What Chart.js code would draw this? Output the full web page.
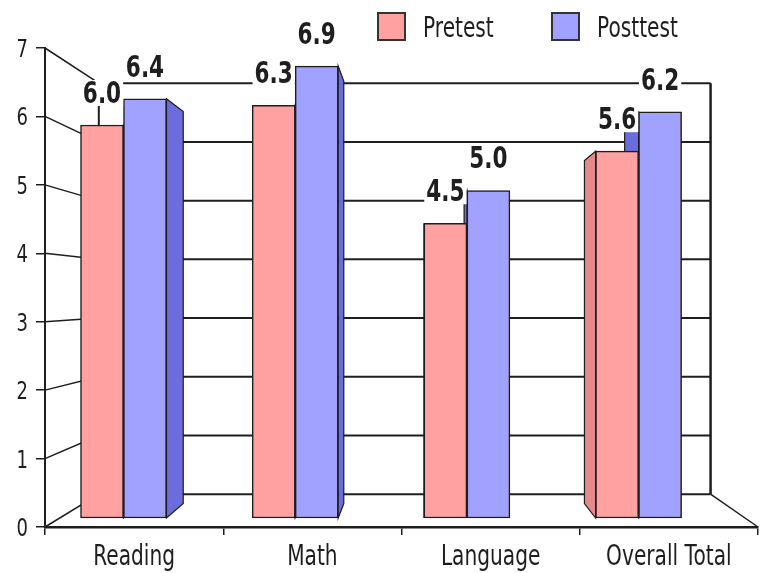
<!DOCTYPE html>
<html>
<head>
<meta charset="utf-8">
<title>Pretest and Posttest Scores</title>
<script src="https://cdn.jsdelivr.net/npm/chart.js@4.4.0/dist/chart.umd.min.js"></script>
<style>
  html, body { margin: 0; padding: 0; background: #ffffff; }
  #wrap { width: 770px; height: 573px; }
</style>
</head>
<body>
<div id="wrap"><canvas id="chart" width="770" height="573"></canvas></div>
<script>
// ---- data ----
const categories = ['Reading', 'Math', 'Language', 'Overall Total'];
const seriesNames = ['Pretest', 'Posttest'];
const pretest = [6.0, 6.3, 4.5, 5.6];
const posttest = [6.4, 6.9, 5.0, 6.2];
const yTicks = [0, 1, 2, 3, 4, 5, 6, 7];

// ---- look ----
const FACE = "'DejaVu Sans', 'Liberation Sans', sans-serif";
const SQUEEZE = 0.72;           // horizontal compression of all lettering
const INK = '#1e1e1e';
const COLORS = {
  pre:  { face: '#ffa1a1', side: '#e58a8a' },
  post: { face: '#a1a1ff', side: '#6c6cdc' }
};
// one-point perspective used for the back wall and the bar side faces
const VIEW = { vx: 424, vy: 296, wallScale: 0.858, barDepth: 0.065 };

function toBack(x, y) {
  return [VIEW.vx + (x - VIEW.vx) * VIEW.wallScale, VIEW.vy + (y - VIEW.vy) * VIEW.wallScale];
}

function narrowFont(size, weight) {
  return (weight || 'normal') + ' ' + size + 'px ' + FACE;
}

// draws condensed lettering; returns the drawn width
function narrowText(ctx, text, x, y, size, weight, align) {
  ctx.save();
  ctx.font = narrowFont(size, weight);
  ctx.textAlign = align || 'left';
  ctx.textBaseline = 'alphabetic';
  ctx.translate(x, y);
  ctx.scale(SQUEEZE, 1);
  ctx.fillText(text, 0, 0);
  const w = ctx.measureText(text).width * SQUEEZE;
  ctx.restore();
  return w;
}

// back wall, its gridlines and the floor edges
const wallPlugin = {
  id: 'wall',
  beforeDatasetsDraw(chart) {
    const { ctx, chartArea: a, scales: { y } } = chart;
    const blx = toBack(a.left, 0)[0];
    const brx = toBack(a.right, 0)[0];
    const topY = toBack(0, y.getPixelForValue(yTicks[yTicks.length - 1]))[1];
    const floorY = toBack(0, y.getPixelForValue(0))[1];
    ctx.save();
    ctx.strokeStyle = INK;
    yTicks.forEach(v => {
      const fy = y.getPixelForValue(v);
      const by = toBack(a.left, fy)[1];
      ctx.lineWidth = 1.5;
      ctx.beginPath(); ctx.moveTo(a.left, fy); ctx.lineTo(blx, by); ctx.stroke();
      ctx.lineWidth = 2;
      ctx.beginPath(); ctx.moveTo(blx, by); ctx.lineTo(brx, by); ctx.stroke();
    });
    ctx.lineWidth = 2;
    ctx.beginPath(); ctx.moveTo(blx, topY); ctx.lineTo(blx, floorY); ctx.stroke();
    ctx.lineWidth = 2.5;
    ctx.beginPath(); ctx.moveTo(brx, topY); ctx.lineTo(brx, floorY); ctx.stroke();
    ctx.lineWidth = 1.5;
    ctx.beginPath(); ctx.moveTo(a.right, y.getPixelForValue(0)); ctx.lineTo(brx, floorY); ctx.stroke();
    ctx.restore();
  }
};

// side faces of the bars, receding toward the vanishing point
const sidePlugin = {
  id: 'barSides',
  beforeDatasetsDraw(chart) {
    const { ctx } = chart;
    ctx.save();
    chart.data.datasets.forEach((ds, di) => {
      chart.getDatasetMeta(di).data.forEach(bar => {
        const { x, y, base, width } = bar.getProps(['x', 'y', 'base', 'width'], true);
        const edge = x < VIEW.vx ? x + width / 2 : x - width / 2;
        const fx = edge + (VIEW.vx - edge) * VIEW.barDepth;
        const ty = y + (VIEW.vy - y) * VIEW.barDepth;
        const by = base + (VIEW.vy - base) * VIEW.barDepth;
        ctx.beginPath();
        ctx.moveTo(edge, y); ctx.lineTo(fx, ty); ctx.lineTo(fx, by); ctx.lineTo(edge, base);
        ctx.closePath();
        ctx.fillStyle = ds.sideColor;
        ctx.fill();
        ctx.lineWidth = 1.2;
        ctx.strokeStyle = INK;
        ctx.stroke();
      });
    });
    ctx.restore();
  }
};

// value above every bar, on a white patch
const valuePlugin = {
  id: 'values',
  afterDatasetsDraw(chart) {
    const { ctx } = chart;
    const size = 30;
    ctx.save();
    ctx.font = narrowFont(size, 'bold');
    const items = [];
    chart.data.datasets.forEach((ds, di) => {
      chart.getDatasetMeta(di).data.forEach((bar, i) => {
        const txt = ds.data[i].y.toFixed(1);
        items.push({ txt, x: bar.x, base: bar.y - 22, w: ctx.measureText(txt).width * SQUEEZE });
      });
    });
    ctx.fillStyle = '#ffffff';
    items.forEach(it => ctx.fillRect(it.x - it.w / 2 - 2, it.base - 23, it.w + 4, 26));
    ctx.restore();
    ctx.save();
    ctx.fillStyle = INK;
    items.forEach(it => narrowText(ctx, it.txt, it.x, it.base, size, 'bold', 'center'));
    ctx.restore();
  }
};

// tick lettering for both axes, placed at the library's tick positions
const axisTextPlugin = {
  id: 'axisText',
  afterDraw(chart) {
    const { ctx, scales: { x, y } } = chart;
    ctx.save();
    ctx.fillStyle = INK;
    y.ticks.forEach((t, i) => {
      narrowText(ctx, t.label, y.right - 17, y.getPixelForTick(i) + 9, 25, 'normal', 'right');
    });
    x.ticks.forEach((t, i) => {
      narrowText(ctx, x.getLabelForValue(t.value), x.getPixelForTick(i), x.top + 38, 28, 'normal', 'center');
    });
    ctx.restore();
  }
};

// series key at the top
const keyPlugin = {
  id: 'seriesKey',
  afterDraw(chart, args, opts) {
    const { ctx } = chart;
    const size = 27;
    ctx.save();
    chart.data.datasets.forEach((ds, i) => {
      const x = opts.xs[i], y = opts.top;
      ctx.fillStyle = ds.backgroundColor;
      ctx.fillRect(x, y, size, size);
      ctx.lineWidth = 2;
      ctx.strokeStyle = '#333333';
      ctx.strokeRect(x, y, size, size);
      ctx.fillStyle = INK;
      narrowText(ctx, ds.label, x + size + 18, y + size / 2 + 10, 28, 'normal', 'left');
    });
    ctx.restore();
  }
};

const toPoints = values => values.map((v, i) => ({ x: i, y: v }));

new Chart(document.getElementById('chart'), {
  type: 'bar',
  data: {
    labels: categories,
    datasets: [
      {
        label: seriesNames[0],
        data: toPoints(pretest),
        backgroundColor: COLORS.pre.face,
        sideColor: COLORS.pre.side,
        borderColor: INK,
        borderWidth: 1.5,
        borderSkipped: false,
        xAxisID: 'xb',
        yAxisID: 'yb'
      },
      {
        label: seriesNames[1],
        data: toPoints(posttest),
        backgroundColor: COLORS.post.face,
        sideColor: COLORS.post.side,
        borderColor: INK,
        borderWidth: 1.5,
        borderSkipped: false,
        xAxisID: 'xb',
        yAxisID: 'yb'
      }
    ]
  },
  options: {
    responsive: false,
    devicePixelRatio: 1,
    animation: false,
    barThickness: 43,
    layout: { padding: { top: 48, right: 12, bottom: 0, left: 0 } },
    plugins: {
      legend: { display: false },
      tooltip: { enabled: false },
      seriesKey: { xs: [378, 552], top: 13 }
    },
    scales: {
      x: {
        type: 'category',
        position: 'bottom',
        offset: true,
        grid: { display: true, offset: true, drawOnChartArea: false, drawTicks: true, tickLength: 8, color: INK, lineWidth: 1.5 },
        border: { display: true, color: INK, width: 2.5 },
        ticks: { display: false },
        afterFit: s => { s.height = 46; }
      },
      y: {
        type: 'linear',
        position: 'left',
        min: yTicks[0],
        max: yTicks[yTicks.length - 1],
        ticks: { display: false, stepSize: 1 },
        grid: { display: true, drawOnChartArea: false, drawTicks: true, tickLength: 9, color: INK, lineWidth: 1.5 },
        border: { display: true, color: INK, width: 2 },
        afterFit: s => { s.width = 45; }
      },
      xb: {
        type: 'linear',
        display: false,
        offset: false,
        bounds: 'data',
        min: -0.4572,
        max: 3.6954
      },
      yb: {
        type: 'linear',
        display: false,
        bounds: 'data',
        min: -0.1374,
        max: 7.1755
      }
    }
  },
  plugins: [wallPlugin, sidePlugin, valuePlugin, axisTextPlugin, keyPlugin]
});
</script>
</body>
</html>
